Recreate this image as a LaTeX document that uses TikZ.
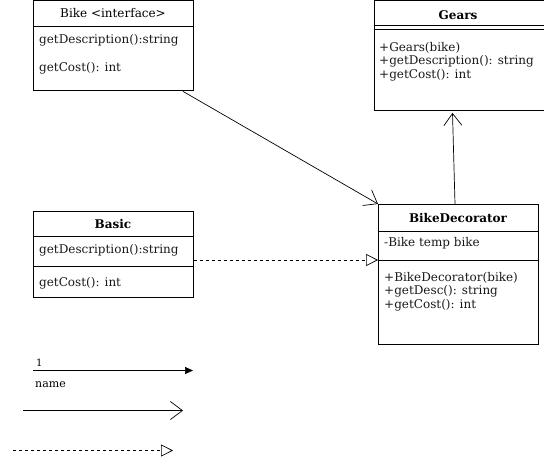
\documentclass[tikz,border=0pt]{standalone}
\usepackage{fontspec}
\setmainfont{DejaVu Serif}
\usetikzlibrary{arrows.meta,calc}
\begin{document}
\begin{tikzpicture}[x=1bp,y=-1bp,
  umlbox/.style={draw, line width=0.9bp, rectangle, inner sep=0, anchor=north west},
  sep/.style={line width=0.9bp},
  txt/.style={inner sep=0, anchor=west, font=\fontsize{12bp}{14bp}\selectfont, text=black!90},
  ttl/.style={inner sep=0, font=\fontsize{12bp}{14bp}\selectfont\bfseries},
  conn/.style={line width=0.7bp},
  vee/.style={-{Straight Barb[length=12bp,width=18bp,line width=0.7bp]}},
  opentri/.style={-{Triangle[open,length=12bp,width=12bp,fill=white,line width=0.7bp]}},
  filltri/.style={-{Triangle[length=8bp,width=7bp]}}
]
\useasboundingbox (0,0) rectangle (544,465);
% Bike interface
\node[umlbox, minimum width=160bp, minimum height=90bp] (bike) at (33,0.5) {};
\draw[sep] ($(bike.north west)+(0,26)$) -- ($(bike.north east)+(0,26)$);
\node[ttl, font=\fontsize{12bp}{14bp}\selectfont] (biket) at (113,13) {Bike <interface>};
\node[txt] (bike1) at (39,40) {getDescription():string};
\node[txt] (bike2) at (39,68) {getCost(): int};
% Gears
\node[umlbox, minimum width=170bp, minimum height=109.5bp] (gears) at (373.5,0.5) {};
\draw[sep] ($(gears.north west)+(0,25)$) -- ($(gears.north east)+(0,25)$);
\draw[sep] ($(gears.north west)+(0,29)$) -- ($(gears.north east)+(0,29)$);
\node[ttl] (gearst) at (458,15) {Gears};
\node[txt] (gears1) at (379,48) {+Gears(bike)};
\node[txt] (gears2) at (379,61) {+getDescription(): string};
\node[txt] (gears3) at (379,75) {+getCost(): int};
% BikeDecorator
\node[umlbox, minimum width=160bp, minimum height=140bp] (deco) at (378,204) {};
\draw[sep] ($(deco.north west)+(0,27)$) -- ($(deco.north east)+(0,27)$);
\draw[sep] ($(deco.north west)+(0,56)$) -- ($(deco.north east)+(0,56)$);
\node[ttl] (decot) at (458,218) {BikeDecorator};
\node[txt] (deco1) at (384,243) {-Bike temp bike};
\node[txt] (deco2) at (384,278) {+BikeDecorator(bike)};
\node[txt] (deco3) at (384,291) {+getDesc(): string};
\node[txt] (deco4) at (384,305) {+getCost(): int};
% Basic
\node[umlbox, minimum width=160bp, minimum height=86bp] (basic) at (33,211) {};
\draw[sep] ($(basic.north west)+(0,25)$) -- ($(basic.north east)+(0,25)$);
\draw[sep] ($(basic.north west)+(0,55)$) -- ($(basic.north east)+(0,55)$);
\node[ttl] (basict) at (113,224) {Basic};
\node[txt] (basic1) at (39,250) {getDescription():string};
\node[txt] (basic2) at (39,283) {getCost(): int};
% connectors
\coordinate (bikeout) at ($(bike.south west)+(150,0)$);
\draw[conn, vee] (bikeout) -- (deco.north west);
\coordinate (decoup) at ($(deco.north west)+(77,0)$);
\coordinate (gearsin) at ($(gears.south west)+(79,2)$);
\draw[conn, vee] (decoup) -- (gearsin);
\coordinate (basicout) at ($(basic.north east)+(0,49)$);
\coordinate (decoin) at ($(deco.north west)+(0,56)$);
\draw[conn, dashed, dash pattern=on 3bp off 3bp, opentri] (basicout) -- (decoin);
% legend
\coordinate (l1a) at (33,370.5);
\coordinate (l1b) at (193,370.5);
\draw[conn, filltri] (l1a) -- (l1b);
\node[inner sep=0, anchor=base west, font=\fontsize{10bp}{12bp}\selectfont] (l1n) at (36,366) {1};
\node[inner sep=0, anchor=base west, font=\fontsize{11bp}{13bp}\selectfont] (l1name) at (35,387) {name};
\coordinate (l2a) at (23,410.5);
\coordinate (l2b) at (183,410.5);
\draw[conn, vee] (l2a) -- (l2b);
\coordinate (l3a) at (13,450.5);
\coordinate (l3b) at (173,450.5);
\draw[conn, dashed, dash pattern=on 3bp off 3bp, opentri] (l3a) -- (l3b);
\end{tikzpicture}
\end{document}
